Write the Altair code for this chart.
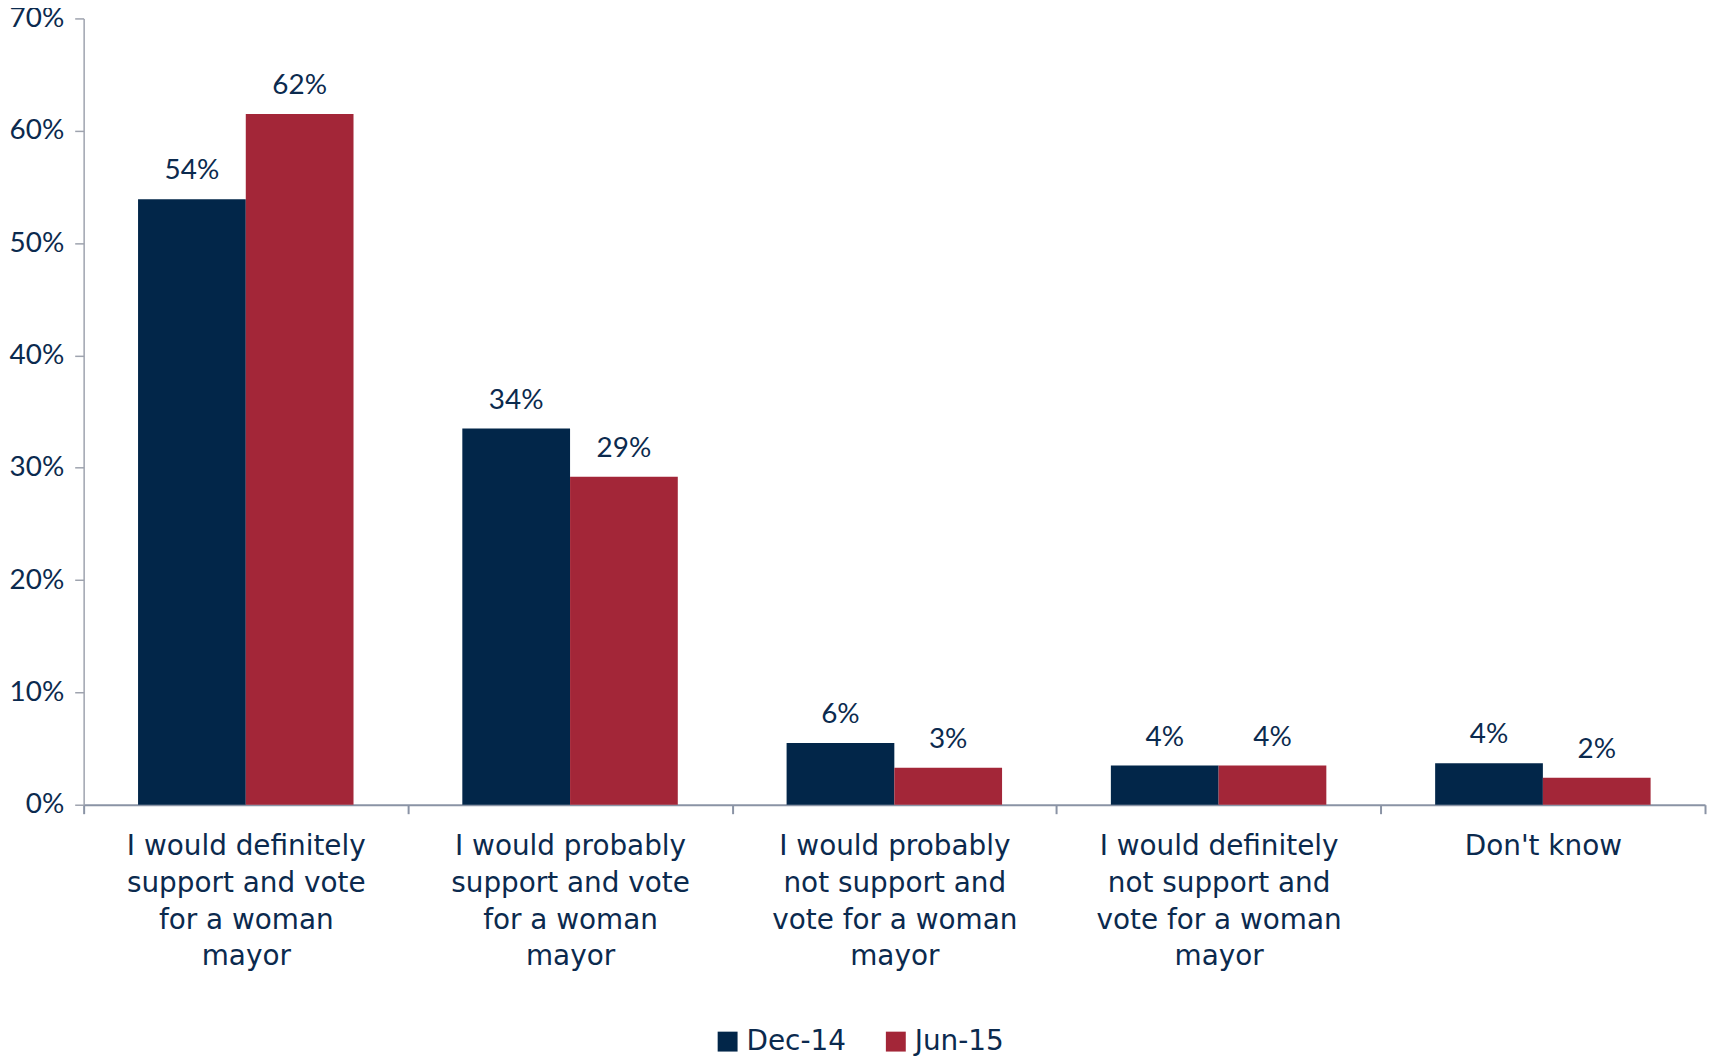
import altair as alt
import pandas as pd

categories = [
    "I would definitely|support and vote|for a woman|mayor",
    "I would probably|support and vote|for a woman|mayor",
    "I would probably|not support and|vote for a woman|mayor",
    "I would definitely|not support and|vote for a woman|mayor",
    "Don't know",
]
series = ["Dec-14", "Jun-15"]
dec14 = [53.9, 33.5, 5.5, 3.5, 3.7]
jun15 = [61.5, 29.2, 3.3, 3.5, 2.4]
dec14_labels = ["54%", "34%", "6%", "4%", "4%"]
jun15_labels = ["62%", "29%", "3%", "4%", "2%"]
y_ticks = [0, 0.1, 0.2, 0.3, 0.4, 0.5, 0.6, 0.7]

NAVY = "#022649"
RED = "#A32638"
TEXT = "#0B2A4E"
FONT = "Lato"
WIDE = "DejaVu Sans"

rows = []
for c, v, l in zip(categories, dec14, dec14_labels):
    rows.append({"cat": c, "series": series[0], "value": v / 100, "label": l})
for c, v, l in zip(categories, jun15, jun15_labels):
    rows.append({"cat": c, "series": series[1], "value": v / 100, "label": l})
df = pd.DataFrame(rows)

x_enc = alt.X(
    "cat:N",
    sort=categories,
    scale=alt.Scale(paddingInner=0, paddingOuter=0),
    axis=alt.Axis(
        title=None,
        labelAngle=0,
        labelExpr="split(datum.label, '|')",
        labelLimit=0,
        tickBand="extent",
        grid=False,
        labelFont=WIDE,
        labelFontSize=28,
        labelColor=TEXT,
        labelLineHeight=37,
        labelPadding=19,
        labelBaseline="top",
        tickSize=9,
        tickColor="#8A93A5",
        tickWidth=2,
        domainColor="#8A93A5",
        domainWidth=2,
    ),
)
xoff = alt.XOffset("series:N", sort=series, scale=alt.Scale(paddingInner=0, paddingOuter=0.505))
y_enc = alt.Y(
    "value:Q",
    scale=alt.Scale(domain=[0, 0.7], nice=False),
    axis=alt.Axis(
        title=None,
        values=y_ticks,
        format=".0%",
        grid=False,
        labelFont=FONT,
        labelFontSize=28,
        labelColor=TEXT,
        labelPadding=11,
        labelLimit=0,
        tickSize=9,
        tickColor="#9EA3AE",
        tickWidth=1.5,
        domainColor="#9EA3AE",
        domainWidth=1.5,
    ),
)

bars = alt.Chart(df).mark_bar().encode(
    x=x_enc,
    xOffset=xoff,
    y=y_enc,
    color=alt.Color(
        "series:N",
        sort=series,
        scale=alt.Scale(domain=series, range=[NAVY, RED]),
        legend=alt.Legend(
            title=None,
            orient="none",
            direction="horizontal",
            legendX=633,
            legendY=1014,
            symbolType="square",
            symbolSize=400,
            symbolStrokeWidth=0,
            symbolOpacity=1,
            labelFont=WIDE,
            labelFontSize=28,
            labelColor=TEXT,
            labelOffset=5,
            columnPadding=36,
        ),
    ),
)

texts = alt.Chart(df).mark_text(
    font=FONT, fontSize=28, color=TEXT, baseline="alphabetic", dy=-20
).encode(
    x=alt.X("cat:N", sort=categories),
    xOffset=alt.XOffset("series:N", sort=series),
    y=alt.Y("value:Q"),
    text="label:N",
)

chart = (
    alt.layer(bars, texts)
    .properties(
        width=1629,
        height=790,
        autosize=alt.AutoSizeParams(type="none"),
        padding={"left": 76, "top": 8, "right": 3, "bottom": 254},
    )
    .configure(font=FONT)
    .configure_view(strokeWidth=0)
    .configure_axis(grid=False)
)

chart.save("out.html", embed_options={"renderer": "svg", "actions": False})
